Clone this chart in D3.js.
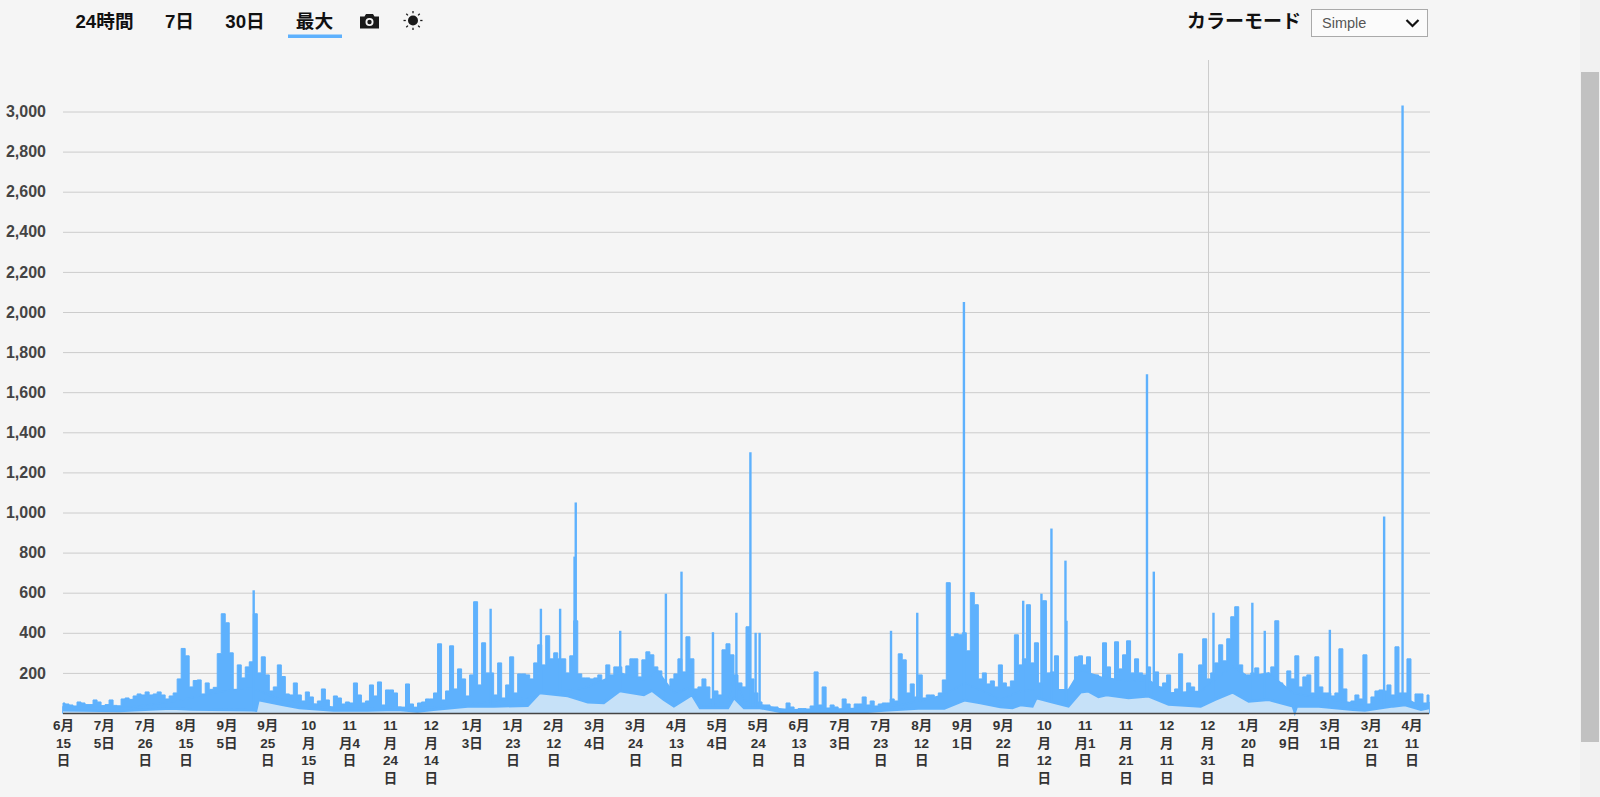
<!DOCTYPE html>
<html lang="ja">
<head>
<meta charset="utf-8">
<script src="https://cdn.jsdelivr.net/npm/d3@7"></script>
<style>
html,body{margin:0;padding:0;background:#f5f5f5;overflow:hidden}
svg{display:block;font-family:"Liberation Sans","Noto Sans CJK JP",sans-serif}
</style>
</head>
<body>
<svg id="c" width="1600" height="797"></svg>
<script>
const tabLabels = ["24時間", "7日", "30日", "最大"];
const colorModeLabel = "カラーモード";
const colorModeValue = "Simple";
const yTicks = [200,400,600,800,1000,1200,1400,1600,1800,2000,2200,2400,2600,2800,3000];
const xTickLabels = [
 ["6月","15","日"],["7月","5日"],["7月","26","日"],["8月","15","日"],["9月","5日"],["9月","25","日"],
 ["10","月","15","日"],["11","月4","日"],["11","月","24","日"],["12","月","14","日"],["1月","3日"],
 ["1月","23","日"],["2月","12","日"],["3月","4日"],["3月","24","日"],["4月","13","日"],["5月","4日"],
 ["5月","24","日"],["6月","13","日"],["7月","3日"],["7月","23","日"],["8月","12","日"],["9月","1日"],
 ["9月","22","日"],["10","月","12","日"],["11","月1","日"],["11","月","21","日"],["12","月","11","日"],
 ["12","月","31","日"],["1月","20","日"],["2月","9日"],["3月","1日"],["3月","21","日"],["4月","11","日"]
];
// Upper envelope, one reading per sample position
const high = [
 50,45,40,35,55,50,42,42,65,55,37,42,65,38,36,70,75,68,85,95,90,105,90,95,105,90,70,85,100,170,322,285,130,162,165,95,150,118,128,296,
 495,450,300,118,240,175,230,255,495,200,280,190,110,130,240,182,95,90,150,90,60,105,80,45,60,120,65,30,85,75,45,55,50,150,90,50,60,140,85,155,
 40,115,115,100,30,20,145,45,25,50,55,70,70,100,345,65,110,335,120,220,170,85,190,555,140,350,200,200,90,250,75,140,280,100,195,195,190,170,250,340,
 240,385,270,300,270,270,200,285,460,195,175,175,170,175,190,160,240,190,230,230,170,235,270,270,180,265,305,290,230,210,150,115,170,195,270,205,380,270,120,130,
 170,130,70,110,90,315,345,290,190,150,130,430,170,100,55,40,40,30,30,20,20,50,30,18,22,22,20,35,205,40,130,25,40,30,12,70,45,8,45,45,
 80,40,60,35,45,50,50,70,60,295,265,100,145,80,190,75,90,90,65,100,165,650,380,395,390,400,310,600,540,170,200,145,160,130,240,150,130,160,390,240,
 270,540,250,350,150,560,200,205,285,100,110,110,130,280,285,240,280,190,190,110,350,230,150,355,220,290,360,200,270,200,190,230,140,205,130,150,190,85,120,295,
 60,150,130,100,240,370,170,200,250,340,260,370,480,530,240,170,190,200,225,170,180,180,230,460,150,90,210,170,285,130,180,190,100,280,130,100,100,85,100,320,
 120,50,60,90,70,290,45,80,110,115,110,140,90,330,100,100,270,50,95,95,50,90
];
// Narrow peaks laid over the envelope
const spikeIndex = [47.6,106.75,119.3,124.1,127.7,128,139.1,150.5,154.4,162.25,168.1,171.6,172.9,173.9,206.7,213.25,224.9,239.7,244.25,246.75,250.25,250.5,270.6,272.3,287.2,296.9,300,316.25,329.8,334.4];
const spikeValue = [612,520,520,520,780,1050,410,595,705,403,500,1300,400,400,410,500,2050,560,595,920,760,460,1690,705,500,550,410,415,980,3030];
// Level up to which the band is solid
const solidIndex = [0,17,27,34,40.5,47,49,54,59,67,92,102,109,116,131,139,145,148.5,152.5,157,159,166,167.5,170,174,180,188.5,201,209,220,225,229,234,239,242.5,251,254,259,266,271,276,284,287.5,292,296,301,307,313.5,322,325,332,335,339,341];
const solidValue = [30,30,55,85,110,125,110,70,55,30,28,45,65,75,130,200,165,210,100,130,40,50,180,66,40,16,16,25,40,90,150,115,66,108,116,116,215,180,158,165,100,108,165,232,180,200,100,75,50,33,83,75,33,50];
// Lower band
const lowIndex = [0,14,27,32,47,48.2,48.8,55,59,67.5,76,83.5,88.5,92.5,101,107.5,116,119,126,131,135,139,145,147,150,152.5,157,159,166,167.5,170,174,180,188.5,198.5,205,213.5,220,225,229,234,237,239,242,243,247,251,254,256,258.5,260.5,266,271,276,284,287.5,292,296,301,307,307.5,308,313.5,322,325,332,335,339,341];
const lowValue = [14,10,22,18,14,12,65,40,25,13,13,16,8,16,33,33,36,100,85,53,50,110,90,112,66,33,90,25,25,75,25,25,3,3,3,13,22,22,63,50,30,25,40,33,75,53,33,103,108,80,90,75,83,42,33,66,103,58,66,33,3,33,33,16,13,33,40,16,25];

const blue = "#5eb1fd", light = "#c6e1f8", grid = "#cccccc", ink = "#111111", axisInk = "#444444";
const svg = d3.select("#c");

const x = d3.scaleLinear().domain([0, high.length - 1]).range([63, 1429]);
const y = d3.scaleLinear().domain([0, 3000]).range([713, 111.5]);
const xLabels = d3.scalePoint().domain(d3.range(xTickLabels.length)).range([63.5, 1412]);

// scrollbar
svg.append("rect").attr("x",1580).attr("y",0).attr("width",20).attr("height",797).attr("fill","#f1f1f1");
svg.append("rect").attr("x",1581).attr("y",72).attr("width",18).attr("height",670).attr("fill","#c1c1c1");

// y axis and grid
const gy = svg.append("g").attr("transform","translate(63,0)")
  .call(d3.axisLeft(y).tickValues(yTicks).tickSize(-1367).tickPadding(17).tickFormat(d3.format(",")));
gy.select(".domain").remove();
gy.selectAll(".tick line").attr("stroke",grid).attr("stroke-width",1);
gy.selectAll(".tick text").attr("fill",axisInk).attr("font-size",16).attr("font-weight","bold")
  .attr("font-family",'"Liberation Sans",sans-serif');

// vertical cursor
svg.append("line").attr("x1",1208.5).attr("x2",1208.5).attr("y1",60).attr("y2",713).attr("stroke",grid);

// series
svg.append("path").datum(high)
  .attr("d", d3.area().x((d,i)=>x(i)).y0(y(0)).y1(d=>y(d)).curve(d3.curveStep))
  .attr("fill",blue).attr("stroke",blue).attr("stroke-width",1);
svg.append("path").datum(solidValue)
  .attr("d", d3.area().x((d,i)=>x(solidIndex[i])).y0(y(0)).y1(d=>y(d)))
  .attr("fill",blue).attr("stroke",blue).attr("stroke-width",1.5);
svg.append("g").selectAll("line").data(spikeValue).join("line")
  .attr("x1",(d,i)=>x(spikeIndex[i])).attr("x2",(d,i)=>x(spikeIndex[i]))
  .attr("y1",y(0)).attr("y2",d=>y(d))
  .attr("stroke",blue).attr("stroke-width",2.4);
svg.append("path").datum(lowValue)
  .attr("d", d3.area().x((d,i)=>x(lowIndex[i])).y0(y(0)).y1(d=>y(d)))
  .attr("fill",light);
svg.append("path").datum(lowValue)
  .attr("d", d3.line().x((d,i)=>x(lowIndex[i])).y(d=>y(d)))
  .attr("fill","none").attr("stroke",blue).attr("stroke-width",2.5);

// baseline
svg.append("line").attr("x1",63).attr("x2",1429).attr("y1",713.5).attr("y2",713.5).attr("stroke",axisInk).attr("stroke-width",1.5);

// x labels
const gx = svg.append("g").selectAll("text").data(xTickLabels).join("text")
  .attr("text-anchor","middle").attr("font-size",13.5).attr("font-weight","bold").attr("fill","#333");
gx.each(function(lines,i){
  d3.select(this).selectAll("tspan").data(lines).join("tspan")
    .attr("x",xLabels(i)).attr("y",(l,j)=>730+j*17.5).text(l=>l);
});

// tabs
const tabX = [104.5, 179.5, 245, 314.5];
svg.append("g").selectAll("text").data(tabLabels).join("text")
  .attr("x",(d,i)=>tabX[i]).attr("y",28).attr("text-anchor","middle")
  .attr("font-size",18.7).attr("font-weight","bold").attr("fill",ink).text(d=>d);
svg.append("rect").attr("x",288).attr("y",34.5).attr("width",54).attr("height",3.5).attr("fill",blue);

// camera icon
const cam = svg.append("g").attr("transform","translate(360,13)");
cam.append("path").attr("d","M0 3.5H4.5L6 1H13L14.5 3.5H19V15.5H0Z").attr("fill","#1a1a1a");
cam.append("circle").attr("cx",9.5).attr("cy",9).attr("r",4).attr("fill","#f5f5f5");
cam.append("circle").attr("cx",9.5).attr("cy",9).attr("r",2.2).attr("fill","#1a1a1a");

// sun icon
const sun = svg.append("g").attr("transform","translate(413,20.5)");
sun.append("circle").attr("r",5).attr("fill","#1a1a1a");
d3.range(8).forEach(k=>{
  const a=k*Math.PI/4;
  sun.append("line").attr("x1",7.2*Math.cos(a)).attr("y1",7.2*Math.sin(a))
    .attr("x2",9.5*Math.cos(a)).attr("y2",9.5*Math.sin(a))
    .attr("stroke","#1a1a1a").attr("stroke-width",1.3);
});

// colour mode control
svg.append("text").attr("x",1187).attr("y",28).attr("font-size",19).attr("font-weight","bold").attr("fill",ink).text(colorModeLabel);
svg.append("rect").attr("x",1311.5).attr("y",9.5).attr("width",116).attr("height",27).attr("fill","#fbfbfb").attr("stroke","#aaaaaa");
svg.append("text").attr("x",1322).attr("y",28).attr("font-size",14.5).attr("fill","#555").text(colorModeValue);
svg.append("path").attr("d","M1406.5 20L1412.5 26L1418.5 20").attr("fill","none").attr("stroke","#111").attr("stroke-width",2.2);
</script>
</body>
</html>
